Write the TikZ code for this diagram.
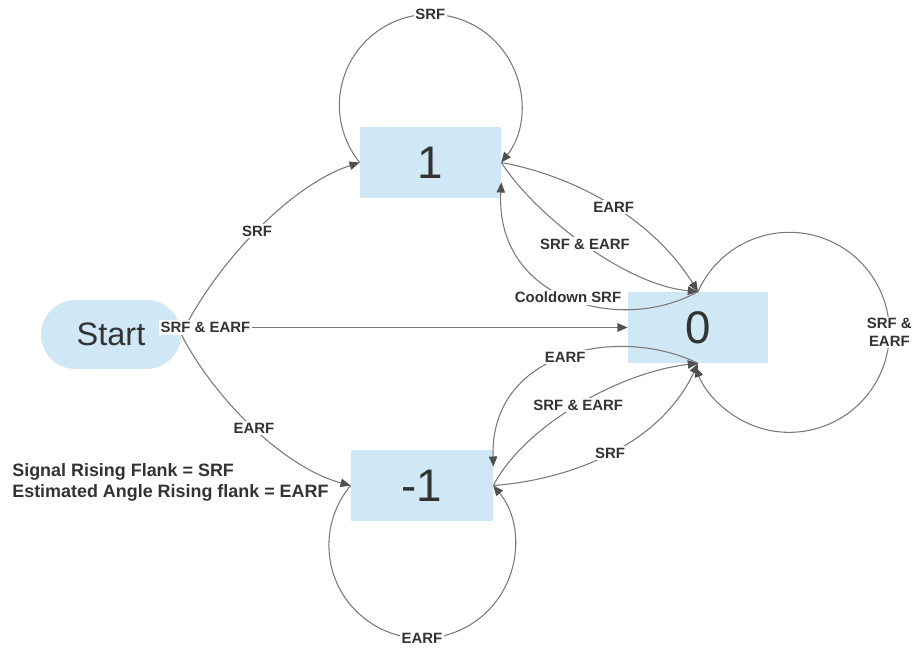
\documentclass[tikz,border=0pt]{standalone}
\usepackage{fontspec}
\setmainfont{Liberation Sans}
\usetikzlibrary{arrows.meta,calc}
\definecolor{statefill}{RGB}{208,231,245}
\definecolor{ink}{RGB}{51,51,51}
\definecolor{wire}{RGB}{120,120,120}
\definecolor{tipc}{RGB}{80,80,80}
\begin{document}
\begin{tikzpicture}[x=0.02cm,y=-0.02cm,
  state/.style={fill=statefill, text=ink, inner sep=0pt, minimum width=2.82cm,
    minimum height=1.42cm, font=\fontsize{26}{30}\selectfont},
  lbl/.style={fill=white, text=ink, inner sep=1pt,
    font=\bfseries\fontsize{8.5}{10}\selectfont},
  edge/.style={draw=wire, line width=0.6pt,
    -{Triangle[length=5.8pt,width=4.8pt,color=tipc]}},
]
\useasboundingbox (0,0) rectangle (916,652);

% states
\node[state] (one) at (430.5,162.5) {1};
\node[state, minimum width=2.8cm] (zero) at (698,327.5) {0};
\node[state, minimum width=2.84cm] (m1) at (422,485.5) {-1};
\node[fill=statefill, text=ink, rounded corners=0.69cm, minimum width=2.8cm,
  minimum height=1.38cm, inner sep=0pt, font=\fontsize{18.5}{22}\selectfont]
  (start) at (111,334.5) {Start};

% legend
\node[anchor=west, align=left, text=ink, inner sep=0pt,
  font=\bfseries\fontsize{10.2}{12}\selectfont] (legend) at (12,482)
  {Signal Rising Flank = SRF\\Estimated Angle Rising flank = EARF};

% transitions out of Start
\draw[edge] (start.east) .. controls (215,265) and (290,185) .. node[lbl]{SRF} (one.west);
\draw[edge] (start.east) .. controls (215,400) and (285,468) .. node[lbl]{EARF} (m1.west);
\draw[edge] (start.east |- zero.west) -- node[lbl,pos=0.054]{SRF \& EARF} (zero.west);

% state 1
\draw[edge] (one.west) arc[start angle=141,end angle=399,radius=91] node[lbl,pos=.5]{SRF};
\draw[edge] (one.east) .. controls (570,175) and (650,215) .. node[lbl,pos=.53]{EARF} (zero.north);
\draw[edge] (one.east) .. controls (535,215) and (625,285) .. node[lbl]{SRF \& EARF} (zero.north);

% state 0
\draw[edge] (zero.north) .. controls (620,335) and (495,300) .. node[lbl,pos=.5]{Cooldown SRF}
  ($(one.south east)+(0,-16)$);
\draw[edge] (zero.north) arc[start angle=204,end angle=519.8,radius=100]
  node[lbl,pos=.494,align=center]{SRF \&\\EARF};
\draw[edge] (zero.south) .. controls (620,325) and (490,350) .. node[lbl]{EARF}
  ($(m1.north east)+(0,17)$);

% state -1
\draw[edge] (m1.east) .. controls (525,425) and (620,372) .. node[lbl]{SRF \& EARF} (zero.south);
\draw[edge] (m1.east) .. controls (570,480) and (660,445) .. node[lbl]{SRF} (zero.south);
\draw[edge] (m1.west) arc[start angle=220,end angle=-40,radius=93] node[lbl,pos=.5]{EARF};
\end{tikzpicture}
\end{document}
